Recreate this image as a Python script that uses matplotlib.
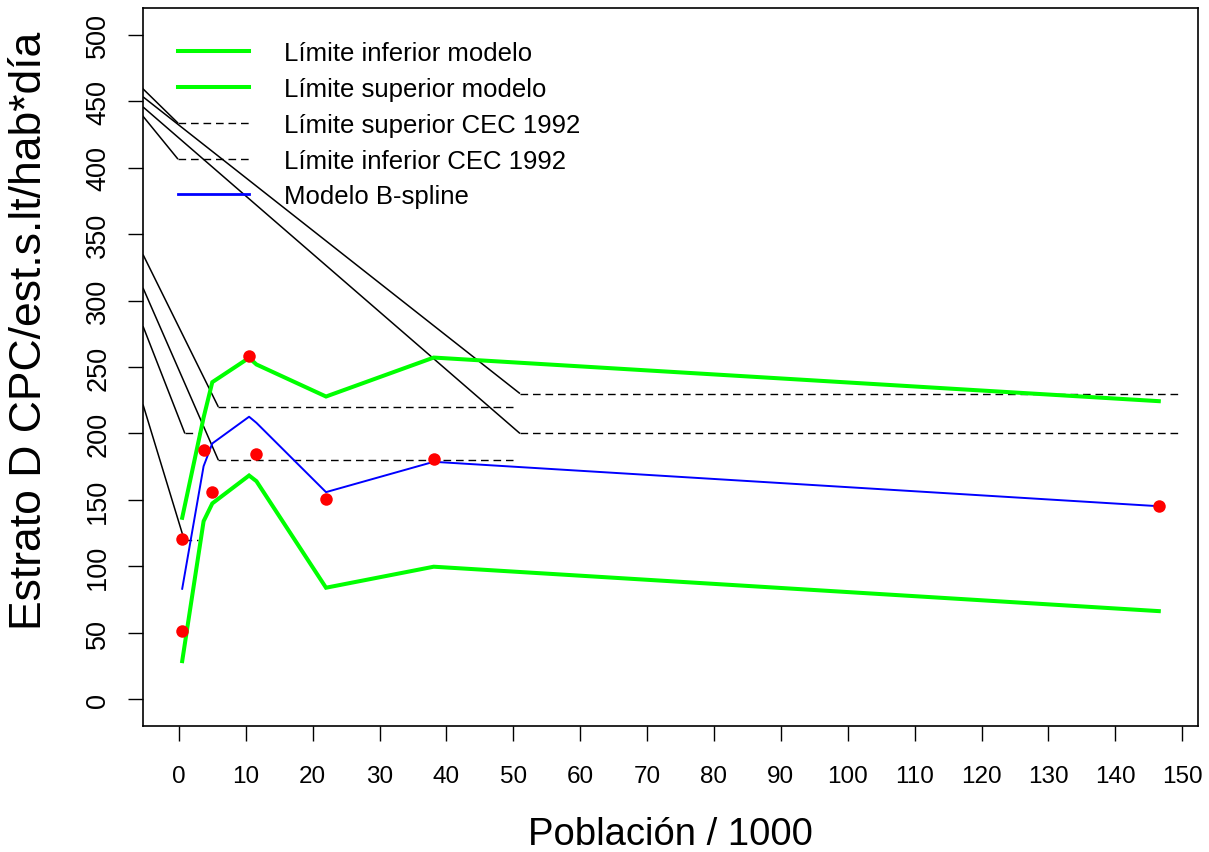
import matplotlib
matplotlib.use("Agg")
import matplotlib.pyplot as plt
from matplotlib.lines import Line2D

plt.rcParams['font.family'] = ['Liberation Sans', 'DejaVu Sans']

# ---- data ----
pop_points = [0.5, 0.5, 3.7, 5.0, 10.5, 11.6, 22.0, 38.1, 146.5]
obs_points = [51.1, 121.0, 187.4, 156.0, 258.0, 184.7, 150.4, 180.5, 145.3]

pop_model = [0.5, 3.7, 5.0, 10.5, 11.6, 22.0, 38.1, 146.5]
lower_model = [28.8, 134.0, 147.4, 168.4, 164.1, 84.0, 99.8, 66.4]
upper_model = [136.6, 212.0, 238.6, 256.9, 251.9, 227.8, 257.1, 224.3]
bspline_model = [83.2, 175.4, 192.5, 212.6, 208.0, 155.9, 178.7, 145.3]

# CEC 1992 reference limits: (x start, x end, value)
cec_x0 = [0.9, 0.8, 5.9, 5.9, 51.0, 51.0]
cec_x1 = [2.9, 2.9, 50.0, 50.0, 150.0, 150.0]
cec_y = [200, 120, 220, 180, 230, 200]
# solid connector lines entering from the left edge to each limit start
conn_y_left = [280.7, 221.8, 334.6, 309.5, 453.2, 445.6]
# connectors entering from the left edge to the dashed legend samples
leg_conn_y_left = [459.2, 438.6]
leg_conn_handle = [2, 3]

x_ticks = list(range(0, 151, 10))
y_ticks = list(range(0, 501, 50))
x_lim = (-5.36, 152.36)
y_lim = (-20, 520)

labels = ["Límite inferior modelo", "Límite superior modelo",
          "Límite superior CEC 1992", "Límite inferior CEC 1992",
          "Modelo B-spline"]

W, H = 1209, 853
fig = plt.figure(figsize=(W / 100, H / 100), dpi=100)
ax = fig.add_axes([143 / W, 1 - 727 / H, (1198 - 143) / W, (727 - 9) / H])
ax.set_xlim(*x_lim)
ax.set_ylim(*y_lim)

green = '#00ff00'
dash = (0, (5.5, 3.5))

# connectors + CEC limits
for x0, x1, y, yl in zip(cec_x0, cec_x1, cec_y, conn_y_left):
    ax.plot([x_lim[0], x0], [yl, y], color='black', lw=1.1, solid_capstyle='butt')
    ax.plot([x0, x1], [y, y], color='black', lw=1.0, linestyle=dash)

ax.plot(pop_model, lower_model, color=green, lw=2.9, solid_joinstyle='miter')
ax.plot(pop_model, upper_model, color=green, lw=2.9, solid_joinstyle='miter')
ax.plot(pop_model, bspline_model, color='#0000ff', lw=1.4)
ax.plot(pop_points, obs_points, 'o', color='#ff0000', markersize=9, markeredgewidth=0)

handles = [Line2D([], [], color=green, lw=2.9),
           Line2D([], [], color=green, lw=2.9),
           Line2D([], [], color='black', lw=1.0, linestyle=dash),
           Line2D([], [], color='black', lw=1.0, linestyle=dash),
           Line2D([], [], color='#0000ff', lw=2.0)]
fs = 18.5
leg = ax.legend(handles, labels, loc='upper left',
                bbox_to_anchor=((177.5 - 143) / (1198 - 143), (727 - 41.7) / (727 - 9)),
                frameon=False, fontsize=fs, borderpad=0, borderaxespad=0,
                handlelength=71 / (fs * 100 / 72), handletextpad=35 / (fs * 100 / 72),
                labelspacing=0.465)

ax.set_xticks(x_ticks)
ax.set_yticks(y_ticks)
ax.set_xticklabels([str(v) for v in x_ticks])
ax.set_yticklabels([str(v) for v in y_ticks], rotation=90, va='center')
ax.tick_params(axis='both', direction='out', length=10.8, width=1.0, color='black')
ax.tick_params(axis='x', pad=17.5, labelsize=17.5)
ax.tick_params(axis='y', pad=12, labelsize=19.5)
for s in ax.spines.values():
    s.set_linewidth(1.2)

fig.text(670.5 / W, 1 - 835 / H, "Población / 1000", fontsize=27.5, ha='center', va='center')
fig.text(30 / W, 1 - 331 / H, "Estrato D CPC/est.s.lt/hab*día", fontsize=32,
         ha='center', va='center', rotation=90)

# attach the left-edge connectors to the start of the dashed legend samples
fig.canvas.draw()
leg_lines = leg.get_lines()
inv = ax.transData.inverted()
for yl, hi in zip(leg_conn_y_left, leg_conn_handle):
    ln = leg_lines[hi]
    disp = ln.get_transform().transform(ln.get_xydata())
    xe, ye = inv.transform(disp[0])
    ax.plot([x_lim[0], xe], [yl, ye], color='black', lw=1.1)

fig.savefig("out.png", dpi=100)
